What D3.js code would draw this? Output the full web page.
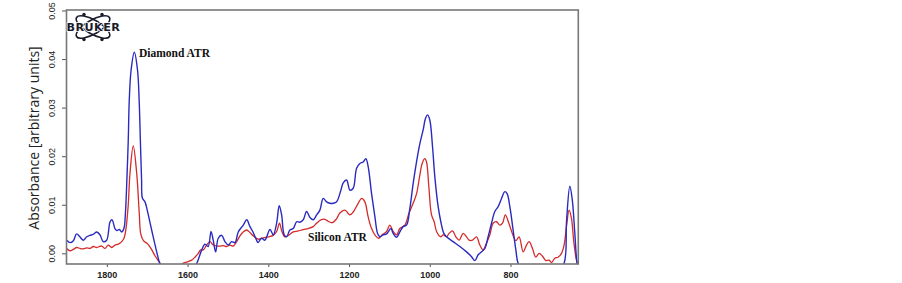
<!DOCTYPE html>
<html>
<head>
<meta charset="utf-8">
<script src="https://cdn.jsdelivr.net/npm/d3@7"></script>
<style>
  html, body { margin: 0; padding: 0; background: #fff; }
  svg { display: block; }
</style>
</head>
<body>
<div id="chart"></div>
<script>
// Wavenumber (cm-1) and absorbance
const diamondWn = [1899, 1891, 1883, 1875, 1867, 1858, 1850, 1842, 1834, 1825, 1817, 1809, 1800.5, 1792, 1787,
  1780, 1775, 1769, 1763, 1757.5, 1754, 1750, 1747, 1744.5, 1740, 1732, 1724, 1720, 1717, 1714, 1712, 1705.5,
  1700, 1689, 1676.5, 1668.5, 1650, 1600, 1577.5, 1565, 1557, 1549, 1542, 1536.5, 1530.5, 1524, 1515.5, 1507.5,
  1499, 1491, 1482.5, 1474.5, 1462, 1453.5, 1445.5, 1438, 1429, 1425.7, 1416.6, 1408.4, 1396, 1387.8, 1379.4,
  1373, 1367, 1360.6, 1354.6, 1346.5, 1338.3, 1329.9, 1321.8, 1313.5, 1305.2, 1297, 1288.8, 1280.3, 1272.2,
  1264, 1255.6, 1247.5, 1239.2, 1230.9, 1220.2, 1214.5, 1206, 1197.9, 1189.7, 1181.3, 1173.1, 1164.9, 1158.3,
  1152.5, 1144.2, 1135.9, 1129.3, 1123.6, 1115.4, 1107, 1096.3, 1090.7, 1082.2, 1074.1, 1065.9, 1057.5, 1049.3,
  1041.1, 1032.7, 1024.5, 1016.4, 1010.5, 1005.4, 999.8, 993.1, 987.4, 979.2, 972.6, 965.1, 958.4, 942.1, 925.5,
  908.9, 896.5, 888.3, 880.1, 871.7, 863.5, 855.4, 847, 838.8, 830.6, 822.2, 814, 808.4, 801.6, 793.5, 786.7,
  781.1, 760, 690, 667.2, 661, 653, 646.9, 640.6, 635, 628];
const diamondAbs = [0.0027, 0.0022, 0.0026, 0.0040, 0.0034, 0.0027, 0.0034, 0.0037, 0.0039, 0.0044, 0.0038,
  0.0024, 0.0027, 0.0065, 0.0069, 0.0051, 0.0047, 0.0049, 0.0044, 0.0052, 0.0083, 0.0161, 0.0233, 0.0315,
  0.0377, 0.0414, 0.0377, 0.0315, 0.0233, 0.0151, 0.0114, 0.0106, 0.0089, 0.0048, 0.0003, -0.0022, -0.005,
  -0.005, -0.0021, 0.0007, 0.0019, 0.0014, 0.0045, 0.0027, 0.0003, 0.0031, 0.0037, 0.0024, 0.0017, 0.0024,
  0.0022, 0.0044, 0.0058, 0.0069, 0.0055, 0.0044, 0.0027, 0.0022, 0.0031, 0.0027, 0.0049, 0.0038, 0.0062,
  0.0098, 0.0079, 0.0038, 0.0034, 0.0048, 0.0051, 0.0065, 0.0064, 0.0069, 0.0086, 0.0074, 0.0069, 0.0079,
  0.0089, 0.0113, 0.0106, 0.0103, 0.0103, 0.0106, 0.0130, 0.0145, 0.0151, 0.0130, 0.0134, 0.0175, 0.0185,
  0.0188, 0.0195, 0.0178, 0.0123, 0.0075, 0.0041, 0.0034, 0.0038, 0.0040, 0.0051, 0.0041, 0.0033, 0.0044,
  0.0055, 0.0058, 0.0093, 0.0144, 0.0189, 0.0226, 0.0254, 0.0278, 0.0285, 0.0274, 0.0219, 0.0157, 0.0096,
  0.0065, 0.0041, 0.0034, 0.0024, 0.0014, 0.0003, -0.0007, -0.0015, -0.0003, 0.0003, 0.0010, 0.0034, 0.0062,
  0.0086, 0.0096, 0.0113, 0.0127, 0.0123, 0.0096, 0.0048, 0.0007, -0.0021, -0.005, -0.005, -0.0021, 0.0068,
  0.0138, 0.0110, 0.0041, -0.0022, -0.005];

const siliconWn = [1899.5, 1891.3, 1883.2, 1874.7, 1866.6, 1858.4, 1850, 1841.8, 1833.6, 1825.2, 1812.8, 1804.7,
  1796.5, 1788.1, 1779.9, 1771.7, 1763.3, 1757.6, 1752.6, 1747.2, 1742.7, 1734.6, 1726.1, 1719.7, 1716, 1709.3,
  1699.4, 1690.7, 1680.8, 1670.9, 1650, 1620, 1612.2, 1598.4, 1589.9, 1581.8, 1573.6, 1567.7, 1561.2, 1552.8,
  1544.6, 1536.5, 1528, 1519.9, 1511.7, 1503.3, 1495.1, 1486.9, 1478.5, 1470.3, 1462.2, 1453.7, 1445.6, 1437.4,
  1425, 1412.6, 1400.2, 1387.9, 1379.4, 1372.3, 1366.3, 1358.9, 1350.7, 1338.3, 1326, 1313.6, 1301.2, 1288.8,
  1280.4, 1269.7, 1259.8, 1251.7, 1241.7, 1230.9, 1222.7, 1210.3, 1197.9, 1189.7, 1177.4, 1168.9, 1160.8,
  1152.6, 1144.2, 1134.3, 1126.1, 1117.9, 1107, 1098.9, 1090.7, 1082.3, 1074.1, 1061.7, 1051.8, 1041.2, 1032.7,
  1024.6, 1018.9, 1012.2, 1008, 1002.3, 995.6, 989.1, 983.2, 972.6, 966.9, 958.5, 952, 943.6, 935.4, 927.2,
  917.3, 908.9, 902.5, 894, 884.1, 876, 867.8, 859.4, 851.2, 843, 834.6, 826.4, 819.7, 812.8, 804.1, 795, 786.8,
  778.6, 768.7, 760.3, 753.9, 745.5, 737.3, 729.1, 720.7, 712.5, 704.3, 698.4, 690.2, 682.1, 673.6, 667.2,
  661.3, 654.8, 648.9, 643.2, 636.5, 632.5];
const siliconAbs = [0.0010, 0.0005, 0.0008, 0.0012, 0.0010, 0.0009, 0.0011, 0.0010, 0.0014, 0.0012, 0.0015,
  0.0010, 0.0017, 0.0012, 0.0017, 0.0019, 0.0024, 0.0031, 0.0051, 0.0098, 0.0165, 0.0221, 0.0165, 0.0082,
  0.0040, 0.0026, 0.0020, 0.0010, -0.0005, -0.0017, -0.004, -0.004, -0.0021, -0.0017, -0.0014, -0.0008,
  0.0000, 0.0007, 0.0007, 0.0017, 0.0024, 0.0017, 0.0015, 0.0015, 0.0016, 0.0014, 0.0017, 0.0015, 0.0024,
  0.0036, 0.0044, 0.0048, 0.0043, 0.0036, 0.0029, 0.0032, 0.0034, 0.0037, 0.0045, 0.0062, 0.0045, 0.0034,
  0.0037, 0.0044, 0.0046, 0.0049, 0.0051, 0.0055, 0.0062, 0.0069, 0.0070, 0.0066, 0.0063, 0.0071, 0.0083,
  0.0089, 0.0079, 0.0085, 0.0103, 0.0113, 0.0106, 0.0075, 0.0051, 0.0036, 0.0031, 0.0038, 0.0045, 0.0058,
  0.0045, 0.0038, 0.0051, 0.0058, 0.0082, 0.0103, 0.0123, 0.0161, 0.0185, 0.0195, 0.0188, 0.0137, 0.0079,
  0.0065, 0.0045, 0.0034, 0.0038, 0.0034, 0.0041, 0.0046, 0.0034, 0.0027, 0.0041, 0.0034, 0.0027, 0.0027,
  0.0034, 0.0017, 0.0007, 0.0021, 0.0038, 0.0062, 0.0065, 0.0058, 0.0062, 0.0079, 0.0062, 0.0040, 0.0026,
  0.0034, 0.0003, 0.0017, 0.0024, 0.0010, -0.0008, 0.0000, -0.0006, -0.0015, -0.0014, -0.0019, -0.0010,
  -0.0008, 0.0000, 0.0017, 0.0055, 0.0089, 0.0072, 0.0024, -0.0014, -0.0022];

const xTicks = [1800, 1600, 1400, 1200, 1000, 800];
const yTicks = [0, 0.01, 0.02, 0.03, 0.04, 0.05];
const yTitle = 'Absorbance [arbitrary units]';
const diamondLabel = 'Diamond ATR';
const siliconLabel = 'Silicon ATR';

const width = 902;
const height = 283;
const margin = { top: 10, right: 323.7, bottom: 19, left: 66.5 };

const svg = d3.select('#chart').append('svg').attr('width', width).attr('height', height);
svg.append('rect').attr('width', width).attr('height', height).attr('fill', '#fff');

const x = d3.scaleLinear().domain([1900, 632]).range([margin.left, width - margin.right]);
const y = d3.scaleLinear().domain([-0.0022, 0.0501]).range([height - margin.bottom, margin.top]);

svg.append('clipPath').attr('id', 'plot-clip')
  .append('rect')
  .attr('x', margin.left).attr('y', margin.top)
  .attr('width', width - margin.left - margin.right)
  .attr('height', height - margin.top - margin.bottom);

const line = d3.line()
  .x((d) => x(d[0]))
  .y((d) => y(d[1]))
  .curve(d3.curveCatmullRom.alpha(0.5));

const diamond = diamondWn.map((w, i) => [w, diamondAbs[i]]);
const silicon = siliconWn.map((w, i) => [w, siliconAbs[i]]);

const plot = svg.append('g').attr('clip-path', 'url(#plot-clip)');
plot.append('path').datum(silicon)
  .attr('fill', 'none').attr('stroke', '#d42a2a').attr('stroke-width', 1.3).attr('d', line);
plot.append('path').datum(diamond)
  .attr('fill', 'none').attr('stroke', '#2a2ac0').attr('stroke-width', 1.4).attr('d', line);

// axes, R style
const yAxis = svg.append('g')
  .attr('transform', `translate(${margin.left},0)`)
  .call(d3.axisLeft(y).tickValues(yTicks).tickSize(4.5).tickFormat(d3.format('.2f')));
yAxis.select('.domain').remove();
yAxis.selectAll('line').attr('stroke', '#555');
yAxis.selectAll('text')
  .attr('transform', 'rotate(-90)')
  .attr('x', 0).attr('y', -11.5).attr('dy', 0)
  .attr('text-anchor', 'middle')
  .style('font-family', 'Liberation Sans, Arial, sans-serif')
  .style('font-size', '9px')
  .attr('fill', '#222');

const xAxis = svg.append('g')
  .attr('transform', `translate(0,${height - margin.bottom})`)
  .call(d3.axisBottom(x).tickValues(xTicks).tickSize(3).tickFormat(d3.format('d')));
xAxis.select('.domain').remove();
xAxis.selectAll('line').attr('stroke', '#555');
xAxis.selectAll('text')
  .attr('y', 8).attr('dy', '0.71em')
  .style('font-family', 'Liberation Sans, Arial, sans-serif')
  .style('font-size', '9px')
  .style('font-weight', 'bold')
  .attr('fill', '#222');

// plot frame
svg.append('rect')
  .attr('x', margin.left).attr('y', margin.top)
  .attr('width', width - margin.left - margin.right)
  .attr('height', height - margin.top - margin.bottom)
  .attr('fill', 'none').attr('stroke', '#777').attr('stroke-width', 1.6);

svg.append('text')
  .attr('transform', 'translate(38.5,138) rotate(-90)')
  .attr('text-anchor', 'middle')
  .style('font-family', 'Open Sans, Liberation Sans, sans-serif')
  .style('font-size', '14px')
  .attr('fill', '#222')
  .text(yTitle);

// labels on the curves
svg.append('text')
  .attr('x', 139).attr('y', 57)
  .style('font-family', 'Liberation Serif, Times New Roman, serif')
  .style('font-size', '11.5px').style('font-weight', 'bold')
  .attr('fill', '#111')
  .text(diamondLabel);
svg.append('text')
  .attr('x', 308).attr('y', 241)
  .style('font-family', 'Liberation Serif, Times New Roman, serif')
  .style('font-size', '11.5px').style('font-weight', 'bold')
  .attr('fill', '#111')
  .text(siliconLabel);

// Bruker logo, top left
const logo = svg.append('g').attr('transform', 'translate(93,27)');
[-30, 30].forEach((a) => {
  logo.append('ellipse')
    .attr('rx', 19).attr('ry', 7)
    .attr('transform', `rotate(${a})`)
    .attr('fill', 'none').attr('stroke', '#1a1a2a').attr('stroke-width', 1.6);
});
[[-9, -12.5], [9, -12.5], [-9, 12.5], [9, 12.5]].forEach(([cx, cy]) => {
  logo.append('circle').attr('cx', cx).attr('cy', cy).attr('r', 1.7).attr('fill', '#1a1a2a');
});
logo.append('text')
  .attr('x', 0.4).attr('y', 3.6)
  .attr('text-anchor', 'middle')
  .attr('transform', 'scale(1.12,1)')
  .style('font-family', 'DejaVu Sans, sans-serif')
  .style('font-size', '10px').style('font-weight', 'bold')
  .style('letter-spacing', '0.4px')
  .attr('fill', '#1a1a2a')
  .attr('stroke', '#fff').attr('stroke-width', 1.4).attr('paint-order', 'stroke')
  .text('BRUKER');
</script>
</body>
</html>
